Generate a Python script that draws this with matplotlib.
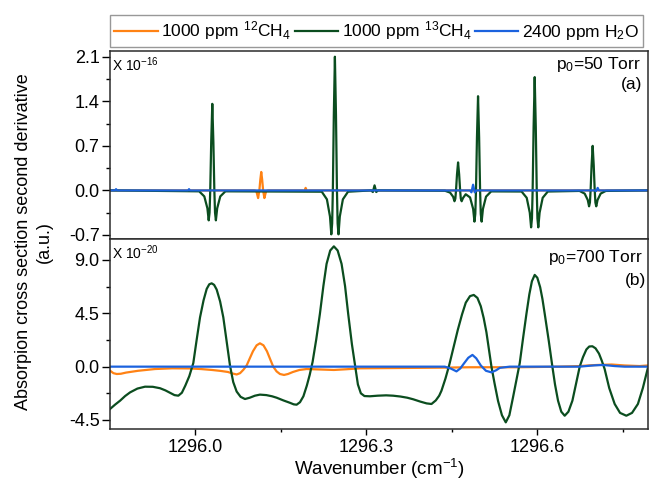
import matplotlib
matplotlib.use("Agg")
import matplotlib.pyplot as plt
from matplotlib.ticker import MultipleLocator, FuncFormatter

plt.rcParams['font.family'] = ['Liberation Sans', 'DejaVu Sans']
plt.rcParams['mathtext.fontset'] = 'custom'
plt.rcParams['mathtext.rm'] = 'Liberation Sans'
plt.rcParams['mathtext.it'] = 'Liberation Sans:italic'
plt.rcParams['mathtext.default'] = 'regular'
plt.rcParams['axes.unicode_minus'] = False

# ---- (a) p0 = 50 Torr, x 1e-16 ----
a_13ch4_x = [1295.851,
             1296.0073, 1296.0163, 1296.0217, 1296.0240, 1296.0255, 1296.0267, 1296.0284, 1296.0303,
             1296.0322, 1296.0339, 1296.0351, 1296.0366, 1296.0389, 1296.0443, 1296.0533,
             1296.2222, 1296.2312, 1296.2366, 1296.2389, 1296.2404, 1296.2416, 1296.2433, 1296.2452,
             1296.2471, 1296.2488, 1296.2500, 1296.2515, 1296.2538, 1296.2592, 1296.2682,
             1296.3087, 1296.3117, 1296.3147, 1296.3177, 1296.3207,
             1296.4381, 1296.4471, 1296.4525, 1296.4548, 1296.4563, 1296.4575, 1296.4592, 1296.4611,
             1296.4630, 1296.4647, 1296.4659, 1296.4674, 1296.4697, 1296.4745,
             1296.4821, 1296.4875, 1296.4898, 1296.4913, 1296.4925, 1296.4942, 1296.4961,
             1296.4980, 1296.4997, 1296.5009, 1296.5024, 1296.5047, 1296.5101, 1296.5191,
             1296.5724, 1296.5814, 1296.5868, 1296.5891, 1296.5906, 1296.5918, 1296.5935, 1296.5954,
             1296.5973, 1296.5990, 1296.6002, 1296.6017, 1296.6040, 1296.6094, 1296.6184,
             1296.6740, 1296.6830, 1296.6884, 1296.6907, 1296.6922, 1296.6934, 1296.6951, 1296.6970,
             1296.6989, 1296.7006, 1296.7018, 1296.7033, 1296.7056, 1296.7110, 1296.7200,
             1296.794]
a_13ch4_y = [0.0,
             -0.014, -0.094, -0.28, -0.47, -0.35, 0.0, 0.76, 1.36,
             0.76, 0.0, -0.35, -0.47, -0.28, -0.094, -0.014,
             -0.02, -0.14, -0.41, -0.69, -0.52, 0.0, 1.18, 2.10,
             1.18, 0.0, -0.52, -0.69, -0.41, -0.14, -0.02,
             0.0, -0.025, 0.08, -0.025, 0.0,
             -0.005, -0.034, -0.10, -0.17, -0.13, 0.0, 0.25, 0.44,
             0.25, 0.0, -0.13, -0.17, -0.12, -0.06,
             -0.11, -0.29, -0.49, -0.37, 0.0, 0.83, 1.48,
             0.83, 0.0, -0.37, -0.49, -0.29, -0.098, -0.015,
             -0.017, -0.116, -0.35, -0.58, -0.44, 0.0, 1.00, 1.78,
             1.00, 0.0, -0.44, -0.58, -0.35, -0.116, -0.017,
             -0.008, -0.05, -0.15, -0.25, -0.19, 0.0, 0.39, 0.70,
             0.39, 0.0, -0.19, -0.25, -0.15, -0.05, -0.008,
             0.0]

a_12ch4_x = [1295.851, 1296.1040, 1296.1075, 1296.1095, 1296.1106, 1296.1128, 1296.1145, 1296.1161,
             1296.1177, 1296.1194, 1296.1216, 1296.1227, 1296.1247, 1296.1282,
             1296.1880, 1296.1915, 1296.1939, 1296.1963, 1296.2000, 1296.794]
a_12ch4_y = [0.0, 0.0, -0.01, -0.08, -0.12, 0.0, 0.17, 0.29,
             0.17, 0.0, -0.12, -0.08, -0.01, 0.0,
             0.0, -0.01, 0.04, -0.01, 0.0, 0.0]

a_h2o_x = [1295.851, 1295.860, 1295.8616, 1295.8632, 1295.988, 1295.9895, 1295.991,
           1296.482, 1296.4845, 1296.4874, 1296.4903, 1296.493,
           1296.701, 1296.7035, 1296.7058, 1296.708, 1296.794]
a_h2o_y = [0.0, 0.0, 0.02, 0.0, 0.0, 0.02, 0.0,
           0.0, -0.03, 0.09, -0.03, 0.0,
           0.0, -0.01, 0.04, 0.0, 0.0]

# ---- (b) p0 = 700 Torr, x 1e-20 ----
b_13ch4_x = [1295.8511, 1295.8600, 1295.8687, 1295.8775, 1295.8862, 1295.8990, 1295.9124, 1295.9260,
             1295.9387, 1295.9480, 1295.9562, 1295.9640, 1295.9708, 1295.9770, 1295.9830, 1295.9900,
             1295.9970, 1296.0030, 1296.0088, 1296.0150, 1296.0205, 1296.0250, 1296.0292, 1296.0335,
             1296.0380, 1296.0440, 1296.0496, 1296.0555, 1296.0613, 1296.0670, 1296.0730, 1296.0800,
             1296.0876, 1296.0960, 1296.1050, 1296.1138, 1296.1250, 1296.1350, 1296.1431, 1296.1550,
             1296.1664, 1296.1730, 1296.1781, 1296.1840, 1296.1900, 1296.1960, 1296.2010, 1296.2061,
             1296.2125, 1296.2189, 1296.2250, 1296.2306, 1296.2370, 1296.2434, 1296.2500, 1296.2569,
             1296.2630, 1296.2685, 1296.2750, 1296.2811, 1296.2855, 1296.2907, 1296.2970, 1296.3065,
             1296.3200, 1296.3350, 1296.3473, 1296.3600, 1296.3720, 1296.3823, 1296.3950, 1296.4060,
             1296.4145, 1296.4220, 1296.4280, 1296.4320, 1296.4390, 1296.4454, 1296.4530, 1296.4606,
             1296.4680, 1296.4746, 1296.4820, 1296.4886, 1296.4950, 1296.5009, 1296.5060, 1296.5108,
             1296.5150, 1296.5196, 1296.5250, 1296.5312, 1296.5380, 1296.5447, 1296.5510, 1296.5574,
             1296.5630, 1296.5692, 1296.5750, 1296.5809, 1296.5860, 1296.5905, 1296.5954, 1296.6000,
             1296.6050, 1296.6090, 1296.6130, 1296.6200, 1296.6264, 1296.6310, 1296.6363, 1296.6420,
             1296.6480, 1296.6545, 1296.6615, 1296.6680, 1296.6743, 1296.6800, 1296.6860, 1296.6910,
             1296.6965, 1296.7020, 1296.7081, 1296.7130, 1296.7180, 1296.7260, 1296.7356, 1296.7450,
             1296.7560, 1296.7660, 1296.7763, 1296.7850, 1296.7933]
b_13ch4_y = [-3.57, -3.20, -2.87, -2.48, -2.17, -1.85, -1.69, -1.70,
             -1.82, -2.00, -2.20, -2.40, -2.45, -2.20, -1.60, -0.80,
             0.30, 2.30, 4.16, 5.60, 6.56, 6.95, 7.03, 6.90,
             6.50, 5.50, 4.16, 2.10, 0.10, -1.30, -2.10, -2.55,
             -2.73, -2.62, -2.45, -2.36, -2.40, -2.50, -2.62, -2.85,
             -3.05, -3.18, -3.21, -3.00, -2.50, -1.60, -0.70, 0.40,
             2.30, 4.45, 6.80, 8.67, 9.80, 10.15, 9.80, 8.67,
             6.80, 4.45, 1.90, -0.10, -1.50, -2.25, -2.48, -2.50,
             -2.45, -2.42, -2.45, -2.52, -2.62, -2.75, -2.95, -3.10,
             -3.15, -2.85, -2.45, -2.03, -1.00, 0.10, 1.60, 3.10,
             4.40, 5.40, 5.95, 6.05, 5.80, 5.10, 4.10, 2.90,
             1.50, 0.0, -1.40, -2.90, -4.10, -4.70, -4.10, -2.59,
             -1.20, 0.30, 2.40, 4.45, 6.10, 7.20, 7.74, 7.50,
             6.70, 5.70, 4.45, 2.20, 0.0, -1.50, -2.87, -3.80,
             -4.14, -3.80, -2.87, -1.40, 0.0, 0.80, 1.45, 1.70,
             1.72, 1.55, 1.10, 0.50, -0.20, -1.80, -3.15, -3.90,
             -4.14, -3.90, -3.15, -1.80, -0.20]

b_12ch4_x = [1295.8511, 1295.8570, 1295.8629, 1295.8700, 1295.8792, 1295.9000, 1295.9299, 1295.9600,
             1295.9912, 1296.0100, 1296.0298, 1296.0450, 1296.0578, 1296.0660, 1296.0730, 1296.0790,
             1296.0850, 1296.0905, 1296.0960, 1296.1016, 1296.1080, 1296.1138, 1296.1200, 1296.1261,
             1296.1320, 1296.1371, 1296.1430, 1296.1489, 1296.1560, 1296.1630, 1296.1716, 1296.1830,
             1296.1956, 1296.2200, 1296.2434, 1296.2650, 1296.2890, 1296.3400, 1296.3940, 1296.4400,
             1296.4816, 1296.5692, 1296.6400, 1296.6743, 1296.6950, 1296.7093, 1296.7303, 1296.7531,
             1296.7793, 1296.7933]
b_12ch4_y = [-0.34, -0.55, -0.62, -0.60, -0.50, -0.35, -0.20, -0.14,
             -0.15, -0.20, -0.28, -0.36, -0.45, -0.58, -0.66, -0.55,
             -0.25, 0.10, 0.70, 1.30, 1.80, 1.97, 1.80, 1.30,
             0.60, 0.0, -0.40, -0.62, -0.70, -0.62, -0.45, -0.28,
             -0.20, -0.24, -0.28, -0.22, -0.14, -0.12, -0.10, -0.08,
             -0.05, -0.05, 0.0, 0.05, 0.12, 0.15, 0.18, 0.10,
             0.05, 0.10]

b_h2o_x = [1295.8511, 1296.4378, 1296.4480, 1296.4583, 1296.4650, 1296.4711, 1296.4790, 1296.4863,
           1296.4930, 1296.5009, 1296.5100, 1296.5196, 1296.5280, 1296.5342, 1296.5517, 1296.6743,
           1296.6900, 1296.7005, 1296.7145, 1296.7250, 1296.7356, 1296.7531, 1296.7933]
b_h2o_y = [0.0, 0.0, -0.15, -0.40, -0.15, 0.25, 0.75, 0.99,
           0.70, 0.10, -0.35, -0.48, -0.30, -0.10, 0.0, 0.0,
           0.07, 0.11, 0.14, 0.10, 0.05, 0.0, 0.0]

labels = ['1000 ppm $^{12}$CH$_4$', '1000 ppm $^{13}$CH$_4$', '2400 ppm H$_2$O']
colors = ['#ff8214', '#0b4d1f', '#1b62de']

a_yticks = [-0.7, 0.0, 0.7, 1.4, 2.1]
b_yticks = [-4.5, 0.0, 4.5, 9.0]
x_ticks = [1296.0, 1296.3, 1296.6]

fig = plt.figure(figsize=(6.49, 4.84), dpi=100)
L, R = 110 / 649, 648 / 649
ax_a = fig.add_axes([L, 1 - 239 / 484, R - L, (239 - 51) / 484])
ax_b = fig.add_axes([L, 1 - 429 / 484, R - L, (429 - 239) / 484], sharex=ax_a)

lw = 1.6
ax_a.plot(a_12ch4_x, a_12ch4_y, color=colors[0], lw=lw, label=labels[0])
ax_a.plot(a_13ch4_x, a_13ch4_y, color=colors[1], lw=lw, label=labels[1])
ax_a.plot(a_h2o_x, a_h2o_y, color=colors[2], lw=lw, label=labels[2])

ax_b.plot(b_12ch4_x, b_12ch4_y, color=colors[0], lw=lw)
ax_b.plot(b_13ch4_x, b_13ch4_y, color=colors[1], lw=lw)
ax_b.plot(b_h2o_x, b_h2o_y, color=colors[2], lw=lw)

ax_a.set_xlim(1295.851, 1296.794)
ax_a.set_ylim(-0.763, 2.19)
ax_b.set_ylim(-5.26, 10.77)

fmt = FuncFormatter(lambda v, p: f"{v:.1f}")
for ax, ticks, minor in [(ax_a, a_yticks, 0.35), (ax_b, b_yticks, 2.25)]:
    ax.set_yticks(ticks)
    ax.yaxis.set_minor_locator(MultipleLocator(minor))
    ax.yaxis.set_major_formatter(fmt)
    ax.tick_params(axis='y', which='major', direction='out', length=5.5, width=1,
                   labelsize=13, pad=2, right=False)
    ax.tick_params(axis='y', which='minor', direction='out', length=3, width=1, right=False)
    for s in ax.spines.values():
        s.set_linewidth(1.1)
        s.set_color('#2b2b2b')

ax_b.set_xticks(x_ticks)
ax_b.xaxis.set_minor_locator(MultipleLocator(0.15))
ax_b.xaxis.set_major_formatter(fmt)
ax_b.tick_params(axis='x', which='major', direction='out', length=4, width=1, labelsize=13, pad=3)
ax_b.tick_params(axis='x', which='minor', direction='out', length=2.5, width=1)
ax_a.tick_params(axis='x', which='both', bottom=False, labelbottom=False)
ax_b.set_xlabel('Wavenumber (cm$^{-1}$)', fontsize=13.5, labelpad=1)

ax_a.text(0.004, 0.975, 'X 10$^{-16}$', transform=ax_a.transAxes, fontsize=10, ha='left', va='top')
ax_b.text(0.004, 0.975, 'X 10$^{-20}$', transform=ax_b.transAxes, fontsize=10, ha='left', va='top')
fig.text(556 / 649, 1 - 55 / 484, 'p$_0$=50 Torr', fontsize=12.5, ha='left', va='top')
fig.text(642 / 649, 1 - 85 / 484, '(a)', fontsize=12.5, ha='right', va='center')
fig.text(548 / 649, 1 - 248 / 484, 'p$_0$=700 Torr', fontsize=12.5, ha='left', va='top')
fig.text(646 / 649, 1 - 280 / 484, '(b)', fontsize=12.5, ha='right', va='center')

fig.text(34 / 649, 0.5, 'Absorpion cross section second derivative\n(a.u.)', rotation=90,
         ha='center', va='center', multialignment='center', fontsize=13, linespacing=1.3)

leg = fig.legend(loc='center', bbox_to_anchor=(376.5 / 649, 1 - 31 / 484), ncol=3, fontsize=12.5,
                 frameon=True, fancybox=False, edgecolor='#7f7f7f', handlelength=2.5,
                 handletextpad=0.2, columnspacing=0.2, borderpad=0.25, borderaxespad=0)
leg.get_frame().set_linewidth(1.0)

fig.savefig('out.png', dpi=100)
